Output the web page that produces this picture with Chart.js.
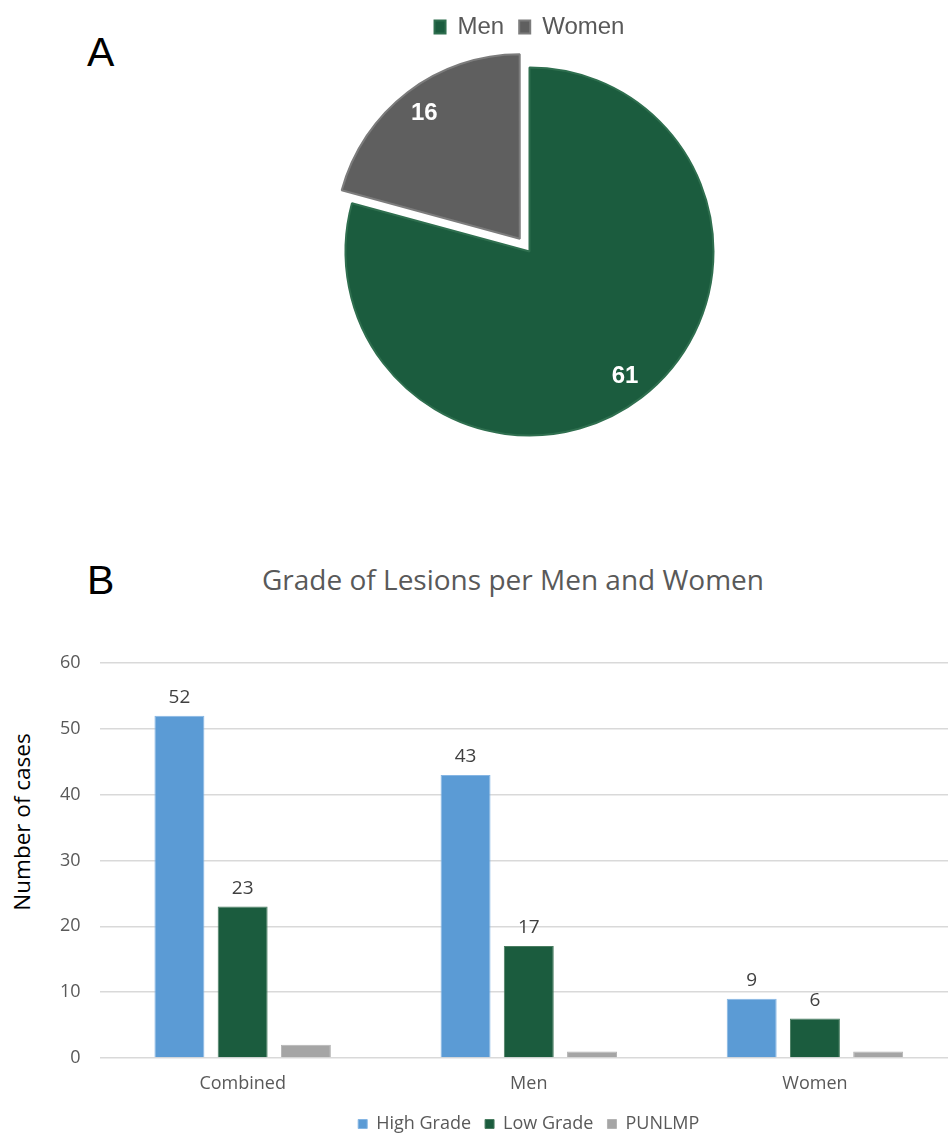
<!DOCTYPE html>
<html>
<head>
<meta charset="utf-8">
<title>Lesions by sex and grade</title>
<script src="https://cdn.jsdelivr.net/npm/chart.js@4.4.1/dist/chart.umd.min.js"></script>
<style>
  html, body { margin: 0; padding: 0; background: #ffffff; }
  body { width: 948px; height: 1133px; overflow: hidden; position: relative; }
  .panel { position: absolute; font-family: "Liberation Sans", Arial, sans-serif; font-size: 41px; color: #000; line-height: 1; }
  #panelA { left: 87px; top: 32px; }
  #panelB { left: 87px; top: 560px; }
  #barTitle { position: absolute; left: 0; top: 561px; width: 1026px; text-align: center;
              font-family: "Open Sans", sans-serif; font-size: 28px; color: #595959; line-height: 36px; white-space: nowrap; }
  #yTitle { position: absolute; left: 22px; top: 822px; transform: translate(-50%, -50%) rotate(-90deg);
            font-family: "Open Sans", sans-serif; font-size: 22.5px; color: #000; white-space: nowrap; line-height: 1; }
  #pieBox { position: absolute; left: 0; top: 0; width: 948px; height: 454px; }
  #barBox { position: absolute; left: 0; top: 600px; width: 960px; height: 543px; }
</style>
</head>
<body>
<div id="panelA" class="panel">A</div>
<div id="panelB" class="panel">B</div>
<div id="barTitle">Grade of Lesions per Men and Women</div>
<div id="yTitle">Number of cases</div>
<div id="pieBox"><canvas id="pieChart"></canvas></div>
<div id="barBox"><canvas id="barChart"></canvas></div>

<script>
// Panel A: cases by sex
const sexLabels = ['Men', 'Women'];
const sexCounts = [61, 16];
const sexFill = ['#1b5c3e', '#5f5f5f'];
const sexEdge = ['#2f6f4f', '#7c7c7c'];
const sexPull = [0, 64];          // arc offset (the element shifts by offset / 4)

// Panel B: grade of lesions per group
const gradeGroups = ['Combined', 'Men', 'Women'];
const highGrade = [52, 43, 9];
const lowGrade = [23, 17, 6];
const punlmp = [2, 1, 1];
const caseTicks = [0, 10, 20, 30, 40, 50, 60];

// Writes each mark's value next to it
const valueLabels = {
  id: 'valueLabels',
  afterDatasetsDraw(chart, args, opts) {
    const ctx = chart.ctx;
    ctx.save();
    ctx.font = opts.font;
    ctx.fillStyle = opts.color;
    ctx.textAlign = 'center';
    (opts.datasets || []).forEach(di => {
      const meta = chart.getDatasetMeta(di);
      const values = chart.data.datasets[di].data;
      meta.data.forEach((el, i) => {
        if (chart.config.type === 'pie') {
          const p = el.getProps(['x', 'y', 'startAngle', 'endAngle', 'outerRadius'], true);
          const mid = (p.startAngle + p.endAngle) / 2;
          const r = p.outerRadius * opts.radial + (el.options.offset || 0) / 4;
          ctx.textBaseline = 'middle';
          ctx.fillText(String(values[i]), p.x + Math.cos(mid) * r, p.y + Math.sin(mid) * r);
        } else {
          const p = el.getProps(['x', 'y'], true);
          ctx.textBaseline = 'alphabetic';
          ctx.fillText(String(values[i]), p.x, p.y - opts.gap);
        }
      });
    });
    ctx.restore();
  }
};

new Chart(document.getElementById('pieChart'), {
  type: 'pie',
  data: {
    labels: sexLabels,
    datasets: [{
      data: sexCounts,
      backgroundColor: sexFill,
      borderColor: sexEdge,
      borderWidth: 2,
      offset: sexPull,
      hoverOffset: 0,
      radius: 184
    }]
  },
  options: {
    responsive: true,
    maintainAspectRatio: false,
    animation: false,
    layout: { padding: { left: 111, right: 0, top: 0, bottom: 0 } },
    plugins: {
      legend: {
        position: 'top',
        labels: {
          color: '#595959',
          font: { family: '"Liberation Sans", Arial, sans-serif', size: 24 },
          boxWidth: 11,
          boxHeight: 13,
          padding: 15
        }
      },
      tooltip: { enabled: false },
      valueLabels: {
        datasets: [0],
        font: 'bold 24px "Liberation Sans", Arial, sans-serif',
        color: '#ffffff',
        radial: 0.855
      }
    }
  },
  plugins: [valueLabels]
});

new Chart(document.getElementById('barChart'), {
  type: 'bar',
  data: {
    labels: gradeGroups,
    datasets: [
      { label: 'High Grade', data: highGrade, backgroundColor: '#5b9bd5', borderColor: '#86b6e4', borderWidth: 1 },
      { label: 'Low Grade', data: lowGrade, backgroundColor: '#1b5c3e', borderColor: '#4a7d61', borderWidth: 1 },
      { label: 'PUNLMP', data: punlmp, backgroundColor: '#a5a5a5', borderColor: '#b4b4b4', borderWidth: 1 }
    ]
  },
  options: {
    responsive: true,
    maintainAspectRatio: false,
    animation: false,
    categoryPercentage: 0.663,
    barPercentage: 0.79,
    layout: { padding: { left: 41, right: 2, top: 63, bottom: 0 } },
    scales: {
      x: {
        grid: { display: false, drawTicks: false },
        border: { display: false },
        ticks: { color: '#595959', font: { family: '"Open Sans", sans-serif', size: 18 }, padding: 15 },
        afterFit(scale) { scale.height = 43; }   // keep the group labels close to the legend
      },
      y: {
        min: caseTicks[0],
        max: caseTicks[caseTicks.length - 1],
        ticks: {
          stepSize: caseTicks[1] - caseTicks[0],
          color: '#595959',
          font: { family: '"Open Sans", sans-serif', size: 18 },
          padding: 19
        },
        grid: { color: '#d9d9d9', lineWidth: 1.5, drawTicks: false },
        border: { display: false }
      }
    },
    plugins: {
      legend: {
        position: 'bottom',
        fullSize: false,
        labels: {
          color: '#595959',
          font: { family: '"Open Sans", sans-serif', size: 18 },
          boxWidth: 9,
          boxHeight: 9,
          padding: 14
        }
      },
      tooltip: { enabled: false },
      valueLabels: {
        datasets: [0, 1],
        font: '19px "Open Sans", sans-serif',
        color: '#404040',
        gap: 13
      }
    }
  },
  plugins: [valueLabels]
});
</script>
</body>
</html>
